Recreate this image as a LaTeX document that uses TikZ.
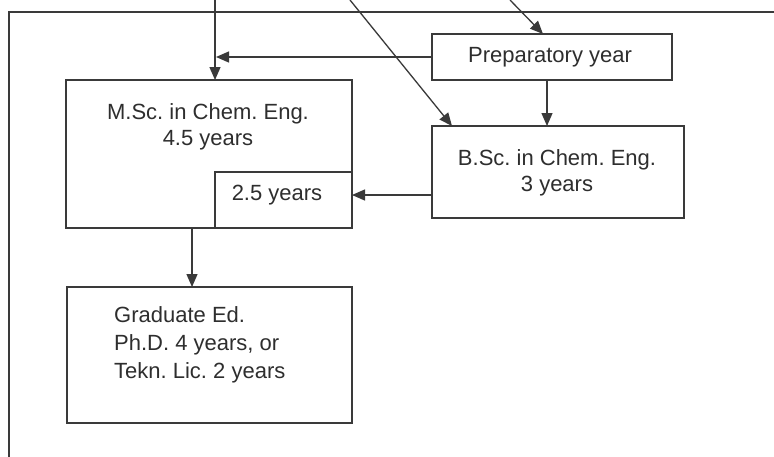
\documentclass[tikz,border=0pt]{standalone}
\usepackage{fontspec}
\setmainfont{Liberation Sans}
\usetikzlibrary{arrows.meta,calc}
\definecolor{ink}{HTML}{3A3A3A}
\definecolor{txt}{HTML}{2E2E2E}
\tikzset{
  box/.style={draw=ink, line width=1.7pt, fill=white, inner sep=0pt, outer sep=0pt},
  lbl/.style={text=txt, font=\fontsize{22}{26}\selectfont, inner sep=0pt, align=center},
  link/.style={draw=ink, line width=1.3pt, -{Triangle[length=13pt,width=11pt]}},
}
\frenchspacing
\begin{document}
\begin{tikzpicture}[x=1pt,y=-1pt]
\clip (0,0) rectangle (774,456);
\fill[white] (0,0) rectangle (774,456);

% outer frame running off the page
\draw[ink, line width=1.7pt] (9,470) -- (9,12) -- (790,12);

% programme boxes
\node[box, minimum width=240pt, minimum height=46pt] (prep) at (552,57) {};
\node[lbl] (prepT) at (550,57) {Preparatory year};

\node[box, minimum width=286pt, minimum height=148pt] (msc) at (209,154) {};
\node[lbl] (mscT) at (208,126.5) {M.Sc. in Chem. Eng.\\4.5 years};

\node[box, minimum width=137pt, minimum height=56pt] (inner) at (283.5,200) {};
\node[lbl] (innerT) at (277,195) {2.5 years};

\node[box, minimum width=252pt, minimum height=92pt] (bsc) at (558,172) {};
\node[lbl] (bscT) at (557,172.5) {B.Sc. in Chem. Eng.\\3 years};

\node[box, minimum width=285pt, minimum height=136pt] (grad) at (209.5,355) {};
\node[lbl, anchor=west, align=left, font=\fontsize{22}{28}\selectfont] (gradT) at (114,345)
  {Graduate Ed.\\Ph.D. 4 years, or\\Tekn. Lic. 2 years};

% entry points above the frame
\coordinate (inA) at (215,0);
\coordinate (inB) at (350,0);
\coordinate (inC) at (510,0);
\coordinate (prepS) at (547,80);
\coordinate (bscW) at (432,195);
\coordinate (mscS) at (192,228);

% connectors
\draw[link] (inA) -- (inA |- msc.north);
\draw[link] (prep.west) -- ($(inA |- prep.west)+(1,0)$);
\draw[link] (inB) -- (452,126);
\draw[link] (inC) -- (543,34);
\draw[link] (prepS) -- (prepS |- bsc.north);
\draw[link] (bscW) -- (bscW -| inner.east);
\draw[link] (mscS) -- (mscS |- grad.north);
\end{tikzpicture}
\end{document}
